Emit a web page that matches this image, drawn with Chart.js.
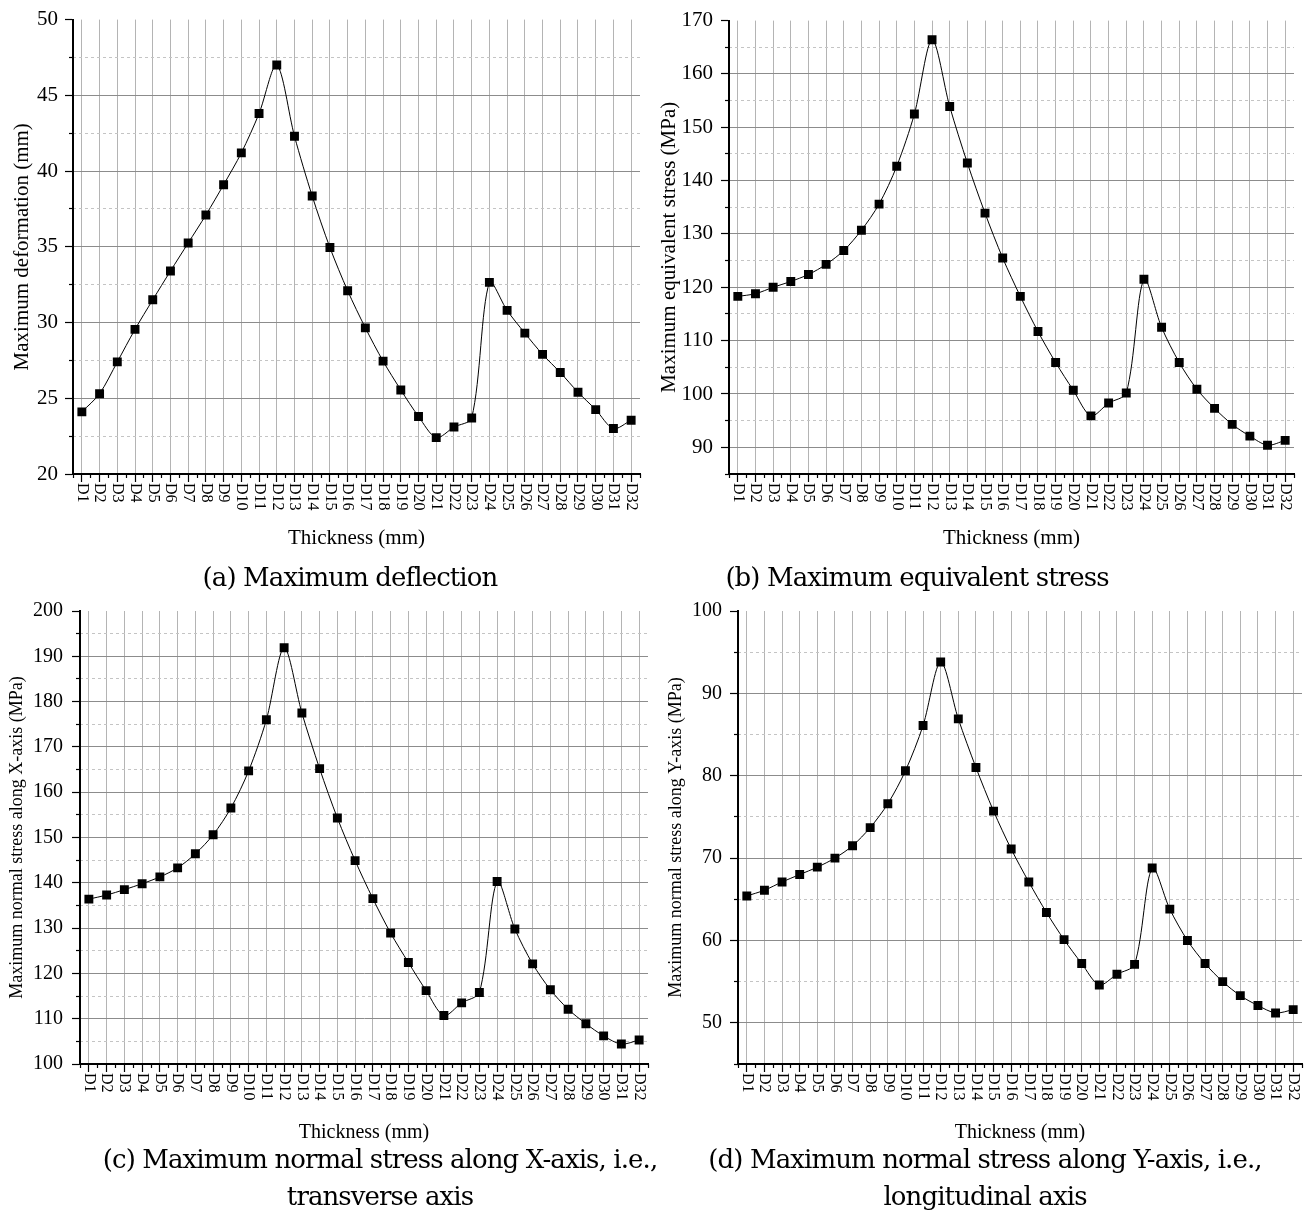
<!DOCTYPE html>
<html><head><meta charset="utf-8">
<script src="https://cdn.jsdelivr.net/npm/chart.js@4.4.1/dist/chart.umd.min.js"></script>
<style>
html,body{margin:0;padding:0;background:#fff;}
#wrap{position:relative;width:1311px;height:1216px;overflow:hidden;background:#fff;}
canvas{position:absolute;}
.cap{position:absolute;width:800px;font-family:"DejaVu Serif",serif;font-size:26px;letter-spacing:-0.9px;color:#000;white-space:nowrap;line-height:37px;text-align:center;}
</style></head><body>
<div id="wrap">
<canvas id="ca" width="655" height="555" style="left:0;top:0"></canvas>
<canvas id="cb" width="656" height="555" style="left:655px;top:0"></canvas>
<canvas id="cc" width="655" height="558" style="left:0;top:590px"></canvas>
<canvas id="cd" width="656" height="558" style="left:655px;top:590px"></canvas>
<div class="cap" style="left:-50px;top:559px;">(a) Maximum deflection</div>
<div class="cap" style="left:517px;top:559px;">(b) Maximum equivalent stress</div>
<div class="cap" style="left:-20px;top:1141px;">(c) Maximum normal stress along X-axis, i.e.,<br>transverse axis</div>
<div class="cap" style="left:585px;top:1141px;">(d) Maximum normal stress along Y-axis, i.e.,<br>longitudinal axis</div>
</div>
<script>
const categories = ['D1','D2','D3','D4','D5','D6','D7','D8','D9','D10','D11','D12','D13','D14','D15','D16',
  'D17','D18','D19','D20','D21','D22','D23','D24','D25','D26','D27','D28','D29','D30','D31','D32'];

const deflection = [24.1,25.3,27.4,29.55,31.5,33.4,35.25,37.1,39.1,41.2,43.8,47.0,42.3,38.35,34.95,32.1,
  29.65,27.45,25.55,23.8,22.4,23.1,23.7,32.65,30.8,29.3,27.9,26.7,25.4,24.25,23.0,23.55];
const equivStress = [118.3,118.8,120.0,121.1,122.4,124.3,126.9,130.7,135.6,142.7,152.5,166.4,153.9,143.3,133.9,125.5,
  118.3,111.7,105.9,100.7,95.9,98.3,100.2,121.5,112.5,105.9,100.9,97.3,94.3,92.1,90.4,91.3];
const stressX = [136.4,137.3,138.5,139.8,141.3,143.3,146.4,150.6,156.5,164.7,176.0,191.9,177.5,165.2,154.3,144.9,
  136.5,128.9,122.4,116.2,110.7,113.5,115.8,140.3,129.8,122.1,116.4,112.1,108.9,106.2,104.4,105.3];
const stressY = [65.4,66.1,67.1,68.0,68.9,70.0,71.5,73.7,76.6,80.6,86.1,93.8,86.9,81.0,75.7,71.1,
  67.1,63.4,60.1,57.2,54.6,55.9,57.1,68.8,63.8,60.0,57.2,55.0,53.3,52.1,51.2,51.6];

const yTicksA = [20,25,30,35,40,45,50];
const yTicksB = [90,100,110,120,130,140,150,160,170];
const yTicksC = [100,110,120,130,140,150,160,170,180,190,200];
const yTicksD = [50,60,70,80,90,100];

const yTitleA = 'Maximum deformation (mm)';
const yTitleB = 'Maximum equivalent stress (MPa)';
const yTitleC = 'Maximum normal stress along X-axis (MPa)';
const yTitleD = 'Maximum normal stress along Y-axis (MPa)';
const xTitle = 'Thickness (mm)';

const rotLabels = {
  id: 'rotLabels',
  afterDraw(chart, args, o) {
    const xs = chart.scales.x, ctx = chart.ctx;
    ctx.save();
    ctx.font = o.size + 'px "Liberation Serif"';
    ctx.fillStyle = '#000';
    ctx.textAlign = 'left';
    ctx.textBaseline = 'middle';
    xs.ticks.forEach((t, i) => {
      const px = xs.getPixelForTick(i);
      ctx.save();
      ctx.translate(px, chart.chartArea.bottom + o.gap);
      ctx.rotate(Math.PI / 2);
      ctx.fillText(xs.getLabelForValue(t.value), 0, 0);
      ctx.restore();
    });
    ctx.restore();
  }
};

function makePanel(id, data, yTicks, yMin, minorStep, yTitle, p) {
  const major = yTicks[1] - yTicks[0];
  const yMax = yTicks[yTicks.length - 1];
  const isMajor = v => Math.abs(v / major - Math.round(v / major)) < 1e-6;
  new Chart(document.getElementById(id), {
    type: 'line',
    data: {
      labels: categories,
      datasets: [{
        data: data,
        borderColor: '#000',
        borderWidth: 1,
        tension: 0.3,
        pointStyle: 'rect',
        pointRadius: 6.3,
        pointBackgroundColor: '#000',
        pointBorderWidth: 0,
        xAxisID: 'x', yAxisID: 'y'
      }]
    },
    options: {
      responsive: false,
      animation: false,
      events: [],
      layout: { padding: { left: 0, top: p.top, right: p.right, bottom: 0 } },
      plugins: { legend: { display: false }, tooltip: { enabled: false }, rotLabels: { size: p.xLabSize, gap: p.xLabGap } },
      scales: {
        x: {
          type: 'category', position: 'bottom', offset: true, weight: 2,
          grid: { color: '#b4b4b4', lineWidth: 1, drawTicks: true, tickLength: 8, tickColor: '#000', tickWidth: 1.2 },
          border: { display: true, color: '#000', width: 2 },
          ticks: { display: false },
          title: { display: true, text: xTitle, color: '#000', font: { family: 'Liberation Serif', size: p.xTitleSize }, padding: { top: 0, bottom: p.xTitlePad } },
          afterFit: s => { s.height = p.xH; }
        },
        x2: {
          type: 'category', position: 'bottom', offset: true, weight: 0, labels: categories,
          grid: { offset: true, drawOnChartArea: false, drawTicks: true, tickLength: 4, tickColor: '#000', tickWidth: 1.2 },
          border: { display: false },
          ticks: { display: false },
          afterFit: s => { s.height = 0; }
        },
        y: {
          type: 'linear', position: 'left', weight: 2, min: yMin, max: yMax,
          ticks: { stepSize: major, includeBounds: false, color: '#000', font: { family: 'Liberation Serif', size: p.yTickSize }, padding: p.yTickPad,
                   callback: v => isMajor(v) ? String(v) : '' },
          grid: { color: c => (c.tick && Math.abs(c.tick.value - yMax) < 1e-6) ? 'rgba(0,0,0,0)' : '#8c8c8c',
                  lineWidth: 1, tickLength: 8, tickColor: '#000', tickWidth: 1.2 },
          border: { display: true, color: '#000', width: 2 },
          title: { display: true, text: yTitle, color: '#000', font: { family: 'Liberation Serif', size: p.yTitleSize }, padding: { top: p.yTitlePad, bottom: 0 } },
          afterFit: s => { s.width = p.yW; }
        },
        y2: {
          type: 'linear', position: 'left', weight: 0, min: yMin, max: yMax,
          ticks: { stepSize: minorStep, display: false, font: { size: 8 } },
          grid: { color: c => (c.tick && !isMajor(c.tick.value)) ? '#c4c4c4' : 'rgba(0,0,0,0)',
                  lineWidth: 1, tickLength: 4, tickWidth: 1.2,
                  tickColor: c => (c.tick && !isMajor(c.tick.value)) ? '#000' : 'rgba(0,0,0,0)' },
          border: { display: false, dash: [3, 3] },
          afterFit: s => { s.width = 0; }
        }
      }
    },
    plugins: [rotLabels]
  });
}

makePanel('ca', deflection, yTicksA, 20, 2.5, yTitleA,
  { top: 18, right: 15, yW: 73, xH: 81, yTickSize: 21, yTickPad: 7, yTitleSize: 21, yTitlePad: 10, xTitleSize: 21, xTitlePad: 4, xLabSize: 16, xLabGap: 9 });
makePanel('cb', equivStress, yTicksB, 85, 5, yTitleB,
  { top: 18, right: 17, yW: 74, xH: 81, yTickSize: 21, yTickPad: 8, yTitleSize: 21, yTitlePad: 2, xTitleSize: 21, xTitlePad: 4, xLabSize: 16, xLabGap: 9 });
makePanel('cc', stressX, yTicksC, 100, 5, yTitleC,
  { top: 19, right: 7, yW: 80, xH: 84, yTickSize: 20, yTickPad: 9, yTitleSize: 18, yTitlePad: 6, xTitleSize: 20, xTitlePad: 3, xLabSize: 16, xLabGap: 9 });
makePanel('cd', stressY, yTicksD, 45, 5, yTitleD,
  { top: 21, right: 9, yW: 83, xH: 84, yTickSize: 20, yTickPad: 8, yTitleSize: 18, yTitlePad: 10, xTitleSize: 20, xTitlePad: 3, xLabSize: 16, xLabGap: 9 });
</script>
</body></html>
